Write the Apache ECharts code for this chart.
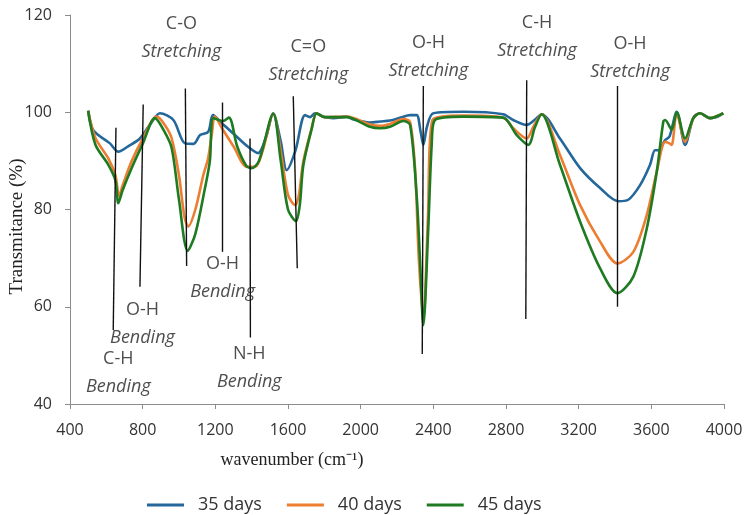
<!DOCTYPE html>
<html>
<head>
<meta charset="utf-8">
<script src="https://cdn.jsdelivr.net/npm/echarts@6/dist/echarts.min.js"></script>
<style>
  html, body { margin: 0; padding: 0; background: #fff; }
  #chart { width: 744px; height: 515px; }
</style>
</head>
<body>
<div id="chart"></div>
<script>
  // 35 days
  var wn35 = [500, 528, 620, 666, 720, 785, 850, 895, 969, 1033, 1080, 1116, 1161, 1187, 1240, 1297, 1380, 1435, 1480, 1518,
    1560, 1593, 1640, 1694, 1722, 1749, 1800, 1850, 1923, 1960, 2051, 2107, 2162, 2220, 2272, 2308, 2330, 2345, 2365, 2400,
    2565, 2784, 2840, 2914, 2960, 2996, 3097, 3208, 3318, 3418, 3473, 3538, 3593, 3620, 3639, 3676, 3700, 3740, 3786, 3831,
    3868, 3923, 3960, 3996];
  var t35 = [100.3, 96.3, 93.6, 91.9, 93.0, 94.6, 98.0, 99.8, 98.4, 93.6, 93.5, 95.3, 96.0, 99.4, 97.6, 95.7, 92.9, 91.6, 95.0, 99.8,
    94.0, 88.1, 92.0, 99.4, 99.0, 99.8, 99.0, 98.8, 99.1, 98.5, 97.9, 98.1, 98.3, 98.9, 99.4, 99.4, 96.0, 93.3, 97.0, 99.8,
    100.1, 99.6, 98.4, 97.4, 98.5, 99.6, 94.6, 88.5, 84.4, 81.7, 82.0, 85.0, 89.2, 92.2, 92.2, 94.3, 95.0, 100.1, 93.3, 98.8,
    99.8, 98.8, 99.0, 99.8];

  // 40 days
  var wn40 = [500, 540, 611, 650, 670, 690, 740, 800, 877, 920, 960, 1000, 1030, 1051, 1090, 1134, 1160, 1180, 1198, 1240,
    1300, 1373, 1420, 1460, 1519, 1560, 1600, 1639, 1660, 1684, 1730, 1758, 1800, 1923, 2051, 2107, 2162, 2235, 2272, 2300,
    2320, 2345, 2370, 2395, 2565, 2784, 2840, 2914, 2950, 2996, 3097, 3208, 3318, 3413, 3501, 3575, 3630, 3676, 3700, 3712,
    3740, 3786, 3831, 3868, 3923, 3996];
  var t40 = [100.3, 94.7, 90.5, 87.0, 82.8, 85.0, 90.0, 94.5, 99.1, 97.5, 94.6, 87.0, 78.5, 76.5, 80.0, 87.1, 90.5, 95.3, 99.1, 96.5,
    93.0, 88.8, 88.8, 92.0, 99.7, 92.0, 83.0, 80.9, 83.0, 89.8, 96.7, 99.8, 99.0, 99.1, 97.5, 97.2, 97.6, 98.6, 98.0, 88.0,
    70.0, 57.6, 78.0, 98.4, 99.3, 98.9, 96.7, 94.6, 97.0, 99.6, 91.2, 80.9, 73.4, 68.9, 71.3, 78.9, 87.8, 93.9, 93.6, 93.3,
    99.8, 93.9, 98.8, 99.8, 98.8, 99.8];

  // 45 days
  var wn45 = [500, 540, 611, 650, 666, 690, 739, 800, 868, 920, 960, 1000, 1048, 1090, 1143, 1170, 1189, 1242, 1275, 1320,
    1370, 1400, 1440, 1519, 1560, 1600, 1644, 1665, 1684, 1730, 1758, 1800, 1923, 2051, 2107, 2162, 2235, 2272, 2308, 2327,
    2345, 2372, 2391, 2409, 2565, 2784, 2859, 2923, 2960, 2996, 3097, 3208, 3318, 3413, 3501, 3575, 3630, 3666, 3676, 3712,
    3740, 3786, 3831, 3868, 3923, 3996];
  var t45 = [100.3, 93.3, 89.2, 86.0, 81.3, 84.0, 88.5, 93.5, 98.8, 96.0, 92.6, 82.0, 71.5, 75.0, 84.4, 90.0, 98.8, 98.2, 98.9, 93.0,
    89.0, 88.5, 90.0, 99.7, 90.0, 80.0, 77.6, 81.0, 89.0, 96.5, 99.8, 99.0, 99.0, 97.0, 96.7, 97.0, 98.2, 97.4, 83.0, 69.3,
    56.2, 76.0, 93.3, 98.4, 99.1, 98.9, 95.3, 93.3, 97.0, 99.6, 89.2, 77.5, 67.9, 62.8, 66.2, 76.1, 87.8, 98.1, 98.4, 96.4,
    100.0, 94.6, 98.8, 99.8, 98.8, 99.8];

  // peak marker lines: top point -> bottom point
  var markX1 = [653, 803, 1035, 1238, 1391, 1629, 2345, 2914, 3413];
  var markY1 = [96.8, 101.6, 104.9, 102.0, 94.6, 103.3, 105.4, 106.6, 105.4];
  var markX2 = [638, 785, 1042, 1238, 1393, 1651, 2339, 2909, 3413];
  var markY2 = [55.2, 64.1, 68.4, 71.3, 53.7, 67.9, 50.3, 57.5, 60.0];

  // labels (centre of the two-line block)
  var labelBond = ['C-O', 'C=O', 'O-H', 'C-H', 'O-H', 'O-H', 'O-H', 'C-H', 'N-H'];
  var labelMode = ['Stretching', 'Stretching', 'Stretching', 'Stretching', 'Stretching', 'Bending', 'Bending', 'Bending', 'Bending'];
  var labelX = [1013, 1712, 2373, 2971, 3483, 1240, 799, 666, 1387];
  var labelY = [115.3, 110.6, 111.4, 115.4, 111.1, 65.9, 56.5, 46.4, 47.5];

  function zip(xs, ys) {
    return xs.map(function (x, i) { return [x, ys[i]]; });
  }

  var markData = markX1.map(function (x, i) {
    return [{coord: [x, markY1[i]]}, {coord: [markX2[i], markY2[i]]}];
  });

  var labelData = labelX.map(function (x, i) {
    return {value: [x, labelY[i]], name: '{b|' + labelBond[i] + '}\n{i|' + labelMode[i] + '}'};
  });

  var myChart = echarts.init(document.getElementById('chart'));

  function lineSeries(name, data, color) {
    return {
      name: name,
      type: 'line',
      data: data,
      symbol: 'none',
      smooth: 0.3,
      lineStyle: {color: color, width: 2.6},
      itemStyle: {color: color},
      z: 3
    };
  }

  var series = [
    lineSeries('35 days', zip(wn35, t35), '#24679a'),
    lineSeries('40 days', zip(wn40, t40), '#ed7d31'),
    lineSeries('45 days', zip(wn45, t45), '#1e7b22'),
    {
      name: 'marks',
      type: 'line',
      data: [],
      silent: true,
      markLine: {
        silent: true,
        symbol: ['none', 'none'],
        label: {show: false},
        lineStyle: {color: '#111', width: 1.4, type: 'solid'},
        data: markData,
        animation: false
      },
      z: 4
    },
    {
      name: 'labels',
      type: 'scatter',
      data: labelData,
      symbolSize: 0,
      silent: true,
      label: {
        show: true,
        position: 'inside',
        color: '#222',
        formatter: function (p) { return p.name; },
        rich: {
          b: {fontFamily: 'Open Sans', fontSize: 18, color: '#222', lineHeight: 28},
          i: {fontFamily: 'Open Sans', fontSize: 18, fontStyle: 'italic', color: '#222', lineHeight: 28}
        }
      },
      z: 5
    }
  ];

  var option = {
    animation: false,
    grid: {left: 70, right: 20, top: 15, bottom: 111, outerBoundsMode: 'none', containLabel: false},
    legend: {
      data: ['35 days', '40 days', '45 days'],
      left: 147,
      top: 496,
      padding: 0,
      icon: 'rect',
      itemWidth: 37,
      itemHeight: 3,
      itemGap: 25,
      textStyle: {fontFamily: 'Open Sans', fontSize: 18, color: '#333', padding: [0, 0, 0, 9]}
    },
    xAxis: {
      type: 'value',
      min: 400,
      max: 4000,
      interval: 400,
      name: 'wavenumber (cm⁻¹)',
      nameLocation: 'middle',
      nameGap: 47,
      nameMoveOverlap: false,
      nameTextStyle: {fontFamily: 'Liberation Serif', fontSize: 18, color: '#222', padding: [0, 210, 0, 0]},
      axisLine: {lineStyle: {color: '#8c8c8c'}},
      axisTick: {show: true, inside: false, length: 5, lineStyle: {color: '#8c8c8c'}},
      axisLabel: {fontFamily: 'Open Sans', fontSize: 16, color: '#333', margin: 18, formatter: function (v) { return String(v); }},
      splitLine: {show: false}
    },
    yAxis: {
      type: 'value',
      min: 40,
      max: 120,
      interval: 20,
      name: 'Transmitance (%)',
      nameLocation: 'middle',
      nameGap: 43,
      nameMoveOverlap: false,
      nameTextStyle: {fontFamily: 'Liberation Serif', fontSize: 19, color: '#222', padding: [0, 34, 0, 0]},
      axisLine: {show: true, lineStyle: {color: '#8c8c8c'}},
      axisTick: {show: true, inside: false, length: 5, lineStyle: {color: '#8c8c8c'}},
      axisLabel: {fontFamily: 'Open Sans', fontSize: 16, color: '#333', margin: 18},
      splitLine: {show: false}
    },
    series: series
  };

  myChart.setOption(option, true);
</script>
</body>
</html>
